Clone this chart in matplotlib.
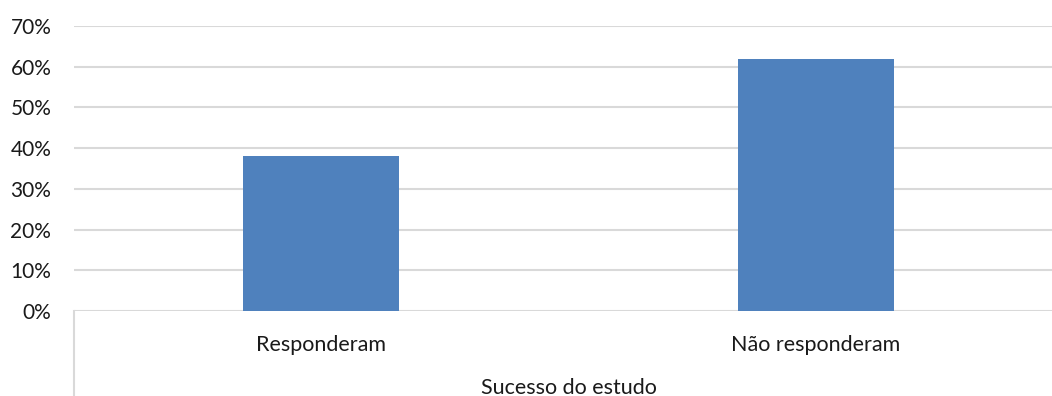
import matplotlib.pyplot as plt
from matplotlib.ticker import FuncFormatter

categories = ['Responderam', 'Não responderam']
values = [38.1, 61.8]
y_ticks = [0, 10, 20, 30, 40, 50, 60, 70]

plt.rcParams['font.family'] = ['Lato', 'DejaVu Sans']

W, H = 1052, 396
fig = plt.figure(figsize=(W / 100, H / 100), dpi=100)

# plot area: left edge at x=73px, y from 26px (70%) to 311px (0%)
left, top, bottom = 73.5 / W, 26 / H, 311 / H
ax = fig.add_axes([left, 1 - bottom, 1 - left, bottom - top])

bar_color = '#4f81bd'
grid_color = '#d9d9d9'
text_color = '#1a1a1a'

x = list(range(len(categories)))
ax.bar(x, values, width=0.315, color=bar_color, zorder=3)

# one category slot is 495px wide; the last slot runs past the figure edge
ax.set_xlim(-0.5, -0.5 + (W - 73.5) / 495)
ax.set_ylim(0, 70)
ax.set_yticks(y_ticks)
ax.yaxis.set_major_formatter(FuncFormatter(lambda v, p: f'{v:.0f}%'))
ax.grid(axis='y', color=grid_color, lw=1.5, zorder=0)
ax.tick_params(axis='y', length=0, pad=16, labelsize=15, labelcolor=text_color)
ax.tick_params(axis='x', length=0, labelbottom=False)
for s in ax.spines.values():
    s.set_visible(False)

# category labels and axis title below the plot
for xi, name in zip(x, categories):
    ax.text(xi, -8.3, name, ha='center', va='center', fontsize=15.5,
            color=text_color, clip_on=False)
ax.text(-0.5 + 1.0, -18.8, 'Sucesso do estudo', ha='center', va='center',
        fontsize=15.5, color=text_color, clip_on=False)

# vertical line at the left of the category area
fig.add_artist(plt.Line2D([left, left], [0, 1 - bottom], color=grid_color,
                          lw=1.5, transform=fig.transFigure))

fig.savefig('out.png', dpi=100)
